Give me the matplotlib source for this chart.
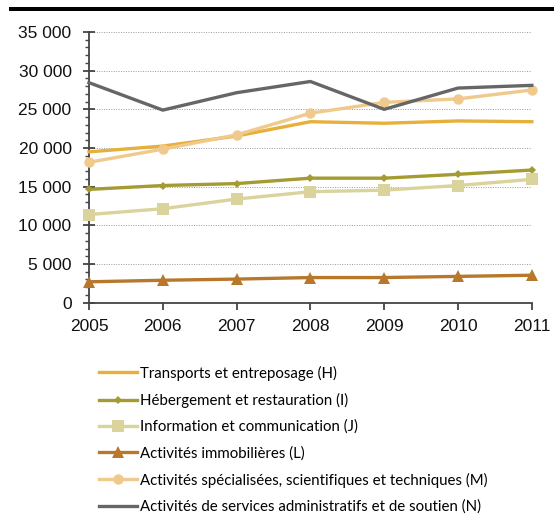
import matplotlib.pyplot as plt
from matplotlib.ticker import MultipleLocator, FuncFormatter
from matplotlib.patches import Rectangle

years = [2005, 2006, 2007, 2008, 2009, 2010, 2011]
transports = [19500, 20250, 21550, 23400, 23200, 23500, 23400]
hebergement = [14650, 15150, 15400, 16100, 16100, 16600, 17150]
information = [11400, 12150, 13400, 14350, 14550, 15150, 15950]
immobilier = [2700, 2900, 3050, 3250, 3250, 3400, 3550]
specialisees = [18150, 19850, 21700, 24500, 25900, 26350, 27500]
services = [28450, 24900, 27150, 28600, 25000, 27750, 28100]

labels = [
    'Transports et entreposage (H)',
    'Hébergement et restauration (I)',
    'Information et communication (J)',
    'Activités immobilières (L)',
    'Activités spécialisées, scientifiques et techniques (M)',
    'Activités de services administratifs et de soutien (N)',
]
colors = ['#E6B03A', '#A49C33', '#DAD49C', '#B8782C', '#F0C98C', '#666666']
markers = [None, 'D', 's', '^', 'o', None]
msizes = [0, 4, 8, 8, 7.5, 0]
series = [transports, hebergement, information, immobilier, specialisees, services]

fig = plt.figure(figsize=(5.54, 5.16), dpi=100)
ax = fig.add_axes([0.1606, 0.4134, 0.7994, 0.5246])

# lighter lines underneath
order = [2, 1, 3, 0, 4, 5]
handles = [None] * 6
for i in order:
    h, = ax.plot(years, series[i], color=colors[i], lw=2.4, marker=markers[i],
                 ms=msizes[i], markeredgewidth=0, label=labels[i], zorder=3 + i,
                 clip_on=False)
    handles[i] = h

ax.set_xlim(2005, 2011)
ax.set_ylim(0, 35000)
ax.set_xticks(years)
ax.yaxis.set_major_locator(MultipleLocator(5000))
ax.yaxis.set_minor_locator(MultipleLocator(1000))
ax.yaxis.set_major_formatter(FuncFormatter(lambda v, p: f'{int(v):,}'.replace(',', ' ')))
ax.grid(axis='y', which='major', color='#999999', ls=(0, (1, 1.5)), lw=0.7)
ax.set_axisbelow(True)

for s in ['top', 'right']:
    ax.spines[s].set_visible(False)
for s in ['left', 'bottom']:
    ax.spines[s].set_color('#444444')
    ax.spines[s].set_linewidth(1.3)
ax.tick_params(axis='both', which='major', width=1.3, color='#444444',
               labelsize=12.5, labelcolor='#111111')
ax.tick_params(axis='y', which='major', direction='inout', length=9, pad=8)
ax.tick_params(axis='y', which='minor', length=3, width=1.0, color='#444444')
ax.tick_params(axis='x', which='major', length=5, pad=7)
for t in ax.get_xticklabels() + ax.get_yticklabels():
    t.set_fontfamily('Liberation Sans')

fig.legend(handles=handles, loc='upper left', bbox_to_anchor=(0.168, 0.303),
           frameon=False, handlelength=2.5, handletextpad=0.2, labelspacing=0.8,
           borderaxespad=0, prop={'family': 'Lato', 'size': 10.8})

# black rule at the top
fig.add_artist(Rectangle((0.017, 0.978), 0.983, 0.009, transform=fig.transFigure,
                         color='black', lw=0))

fig.savefig('out.png', dpi=100)
